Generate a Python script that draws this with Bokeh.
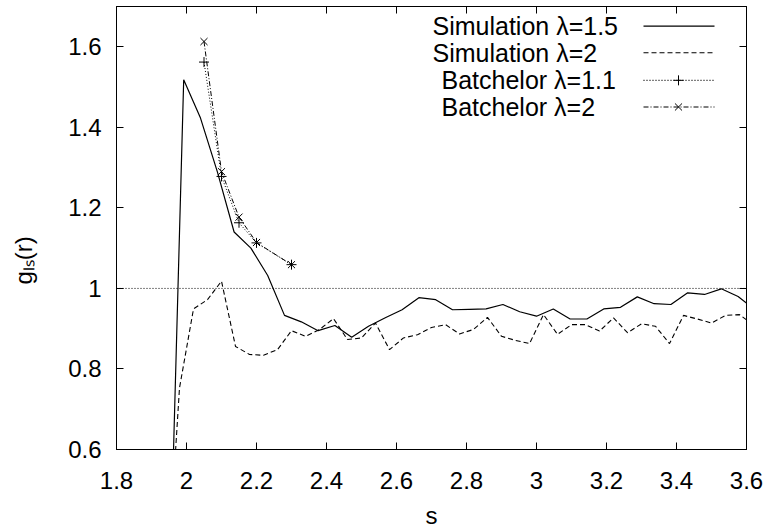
from bokeh.plotting import figure
from bokeh.models import Range1d, LinearAxis, FixedTicker, Label, Title
from bokeh.embed import file_html
from bokeh.resources import INLINE

# ---------------- data ----------------
sim15_s = [1.944, 1.992, 2.040, 2.088, 2.136, 2.184, 2.232, 2.280, 2.328, 2.376,
           2.424, 2.472, 2.520, 2.568, 2.616, 2.664, 2.712, 2.760, 2.808, 2.856,
           2.904, 2.952, 3.000, 3.048, 3.096, 3.144, 3.192, 3.240, 3.288, 3.336,
           3.384, 3.432, 3.480, 3.528, 3.576, 3.624]
sim15_g = [0.0, 1.518, 1.423, 1.290, 1.140, 1.100, 1.032, 0.933, 0.917, 0.895,
           0.908, 0.879, 0.906, 0.927, 0.947, 0.977, 0.972, 0.947, 0.948, 0.949,
           0.960, 0.942, 0.931, 0.949, 0.924, 0.924, 0.949, 0.953, 0.979, 0.962,
           0.960, 0.989, 0.985, 0.999, 0.980, 0.947]

sim2_s = [1.94, 1.98, 2.02, 2.06, 2.10, 2.14, 2.18, 2.22, 2.26, 2.30, 2.34, 2.38,
          2.42, 2.46, 2.50, 2.54, 2.58, 2.62, 2.66, 2.70, 2.74, 2.78, 2.82, 2.86,
          2.90, 2.94, 2.98, 3.02, 3.06, 3.10, 3.14, 3.18, 3.22, 3.26, 3.30, 3.34,
          3.38, 3.42, 3.46, 3.50, 3.54, 3.58, 3.62]
sim2_g = [0.20, 0.753, 0.949, 0.972, 1.018, 0.856, 0.836, 0.834, 0.848, 0.895,
          0.881, 0.898, 0.925, 0.873, 0.877, 0.914, 0.848, 0.877, 0.885, 0.903,
          0.910, 0.887, 0.898, 0.928, 0.881, 0.871, 0.863, 0.935, 0.886, 0.910,
          0.910, 0.894, 0.927, 0.890, 0.912, 0.906, 0.863, 0.933, 0.924, 0.914,
          0.933, 0.935, 0.909]

bat_s = [2.05, 2.10, 2.15, 2.20, 2.30]
bat11_g = [1.562, 1.278, 1.163, 1.113, 1.059]
bat2_g = [1.613, 1.290, 1.177, 1.114, 1.059]

ref_s = [1.8, 3.6]
ref_g = [1.0, 1.0]

x_ticks = [1.8, 2.0, 2.2, 2.4, 2.6, 2.8, 3.0, 3.2, 3.4, 3.6]
x_tick_labels = ["1.8", "2", "2.2", "2.4", "2.6", "2.8", "3", "3.2", "3.4", "3.6"]
y_ticks = [0.6, 0.8, 1.0, 1.2, 1.4, 1.6]
y_tick_labels = ["0.6", "0.8", "1", "1.2", "1.4", "1.6"]

legend_labels = ["Simulation \u03bb=1.5", "Simulation \u03bb=2",
                 "Batchelor \u03bb=1.1", "Batchelor \u03bb=2"]
x_title = "s"
y_title = "g\u2097\u209b(r)"

# ---------------- layout ----------------
X0, X1 = 1.8, 3.6
Y0, Y1 = 0.6, 1.7
FL, FR, FT, FB = 116, 746, 6, 450
FONT = "Liberation Sans"


def sx(px):
    return X0 + (px - FL) / (FR - FL) * (X1 - X0)


def gy(py):
    return Y0 + (FB - py) / (FB - FT) * (Y1 - Y0)


p = figure(width=765, height=531, output_backend="svg", toolbar_location=None,
           x_range=Range1d(X0, X1), y_range=Range1d(Y0, Y1),
           min_border_left=FL, min_border_right=765 - FR,
           min_border_top=FT, min_border_bottom=531 - FB,
           x_axis_label=x_title)
p.grid.visible = False
p.outline_line_color = "black"
p.outline_line_width = 1
p.background_fill_color = "white"
p.border_fill_color = "white"


def style_axis(ax, ticks, labels, show_labels=True):
    ax.ticker = FixedTicker(ticks=ticks)
    ax.major_tick_in = 7
    ax.major_tick_out = 0
    ax.minor_tick_line_color = None
    ax.major_tick_line_color = "black"
    ax.axis_line_color = "black"
    ax.major_label_text_font = FONT
    ax.major_label_text_color = "black"
    ax.axis_label_text_font = FONT
    ax.axis_label_text_font_style = "normal"
    ax.axis_label_text_color = "black"
    if show_labels:
        ax.major_label_overrides = {t: l for t, l in zip(ticks, labels)}
        ax.major_label_text_font_size = "24px"
        ax.axis_label_text_font_size = "24px"
    else:
        ax.major_label_overrides = {t: "" for t in ticks}
        ax.major_label_text_font_size = "1px"
        ax.major_label_standoff = 0


style_axis(p.xaxis[0], x_ticks, x_tick_labels)
p.xaxis[0].major_label_standoff = 22
p.xaxis[0].axis_label_standoff = 10
style_axis(p.yaxis[0], y_ticks, y_tick_labels)
p.yaxis[0].major_label_standoff = 15

top_ax = LinearAxis()
style_axis(top_ax, x_ticks, x_tick_labels, show_labels=False)
p.add_layout(top_ax, "above")
right_ax = LinearAxis()
style_axis(right_ax, y_ticks, y_tick_labels, show_labels=False)
p.add_layout(right_ax, "right")

# y title as a side title (a blank second line pushes it further left)
p.add_layout(Title(text=y_title + "\n\u00a0", align="left", offset=165,
                   standoff=4, text_font=FONT, text_font_size="24px",
                   text_font_style="normal", text_color="black"), "left")

# ---------------- data marks ----------------
p.line(ref_s, ref_g, line_color="black", line_width=1, line_dash="1 2")
p.line(sim15_s, sim15_g, line_color="black", line_width=1.2)
p.line(sim2_s, sim2_g, line_color="black", line_width=1.1, line_dash="5 3")
p.line(bat_s, bat11_g, line_color="black", line_width=1, line_dash="1 2")
p.scatter(bat_s, bat11_g, marker="cross", size=10, line_color="black", line_width=1)
p.line(bat_s, bat2_g, line_color="black", line_width=1, line_dash="5 2 1 2")
p.scatter(bat_s, bat2_g, marker="x", size=10, line_color="black", line_width=1)

# ---------------- legend ----------------
rows_py = [25.7, 52.3, 80.0, 106.7]
text_px = [432, 432, 441, 441]
dashes = ["solid", "5 3", "1 2", "5 2 1 2"]
markers = [None, None, "cross", "x"]
for lab, ry, tx, dsh, mk in zip(legend_labels, rows_py, text_px, dashes, markers):
    p.add_layout(Label(x=sx(tx), y=gy(ry), text=lab, text_font=FONT,
                       text_font_size="25px", text_baseline="middle",
                       text_align="left", text_color="black"))
    p.line([sx(643), sx(714)], [gy(ry), gy(ry)], line_color="black",
           line_width=1.1, line_dash=dsh)
    if mk:
        p.scatter([sx(678)], [gy(ry)], marker=mk, size=10, line_color="black",
                  line_width=1)

open("out.html", "w").write(file_html(p, INLINE))
